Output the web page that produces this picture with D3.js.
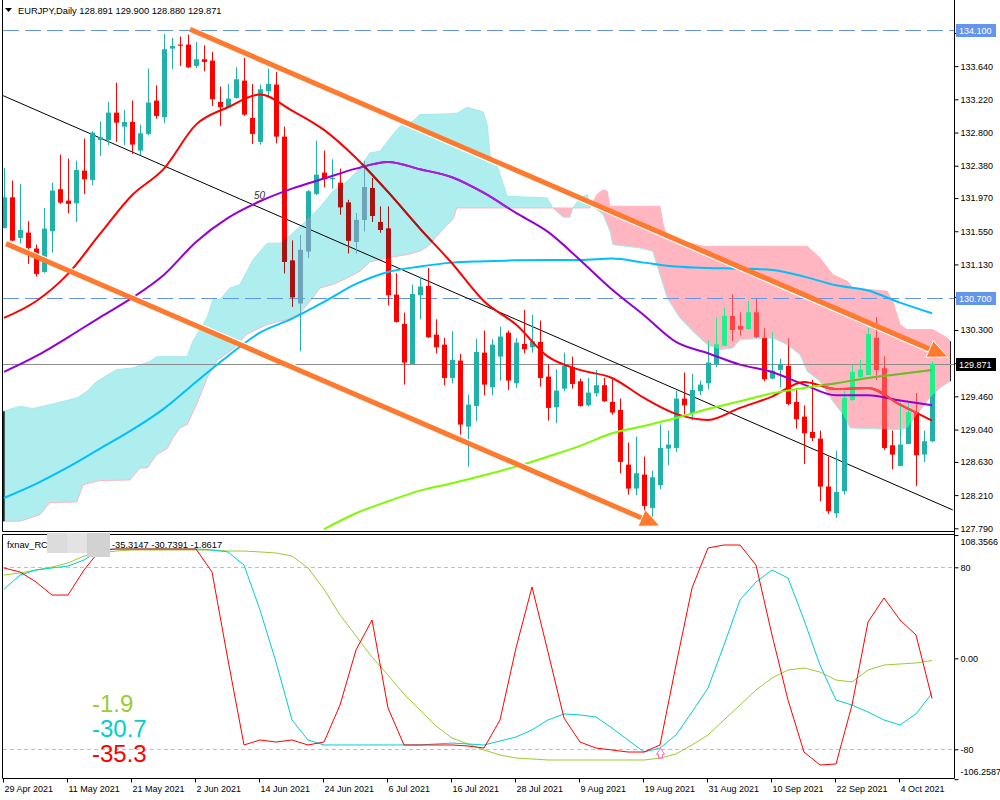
<!DOCTYPE html>
<html><head><meta charset="utf-8">
<script src="https://cdn.jsdelivr.net/npm/d3@7/dist/d3.min.js"></script>
<style>body{margin:0;background:#fff}svg{display:block}text{font-family:'Liberation Sans',Arial,sans-serif}</style>
</head><body><svg width="1000" height="800"></svg>
<script>
// ---------- DATA ----------
const opens = [131.592,131.980,131.466,131.533,131.331,131.035,131.550,132.082,131.938,131.904,132.318,132.200,132.706,132.706,133.052,132.875,132.934,132.571,132.782,133.204,132.993,133.862,133.913,133.913,133.643,133.727,133.710,133.187,133.120,133.238,133.457,132.985,132.681,133.322,133.407,132.748,131.179,130.639,131.297,132.023,132.293,132.208,132.166,131.913,131.415,131.693,132.098,131.668,131.584,130.748,130.377,129.871,130.740,130.858,130.242,130.115,129.693,129.913,129.077,129.339,130.014,129.575,129.963,130.267,129.626,130.124,130.082,130.149,129.710,129.322,129.558,129.828,129.651,129.347,129.499,129.601,129.390,129.288,128.596,128.293,128.470,128.048,128.335,128.799,128.807,129.432,129.246,129.525,129.626,129.871,130.107,130.478,130.352,130.318,130.520,130.200,129.685,129.795,129.845,129.390,129.204,129.010,128.925,128.318,127.980,128.259,129.415,129.710,129.736,130.200,129.812,128.841,128.580,128.858,129.255,128.723,128.891];
const highs = [132.352,132.191,132.149,131.677,131.381,131.845,132.166,132.520,132.470,132.444,132.723,132.816,132.942,133.187,133.432,133.086,133.204,132.900,133.609,133.398,134.048,133.997,134.014,134.039,133.947,133.904,133.820,133.381,133.415,133.626,133.744,133.415,133.407,133.609,133.567,132.875,131.432,131.499,132.073,132.698,132.571,132.461,132.343,131.947,131.778,132.436,132.225,131.862,131.862,131.018,130.520,130.875,130.976,131.086,130.436,130.200,130.284,129.997,129.482,130.191,130.293,130.183,130.343,130.293,130.200,130.554,130.495,130.419,129.862,129.803,130.014,129.963,129.685,129.693,129.795,129.693,129.677,129.432,128.875,128.951,128.698,128.520,129.103,129.027,129.533,129.761,129.744,129.660,130.166,130.453,130.580,130.748,130.520,130.664,130.689,130.318,130.267,129.938,130.191,129.542,129.347,129.668,129.027,128.698,128.774,129.525,129.854,129.921,130.326,130.461,129.963,129.027,129.381,129.373,129.499,129.027,129.900];
const lows = [131.584,131.423,131.398,131.136,130.976,131.023,131.280,131.896,131.778,131.668,132.023,132.132,132.504,132.639,132.681,132.639,132.529,132.512,132.765,132.976,132.917,133.601,133.643,133.617,133.617,133.575,133.136,132.883,133.111,133.229,133.010,132.655,132.647,133.263,132.664,131.018,130.596,130.031,131.212,132.006,132.107,132.090,131.761,131.271,131.271,131.550,131.668,131.533,130.613,130.394,129.609,129.871,130.436,130.200,130.006,129.601,129.626,128.976,128.571,129.145,129.474,129.474,129.660,129.542,129.567,130.006,130.014,129.584,129.153,129.120,129.525,129.558,129.331,129.331,129.457,129.390,129.229,128.487,128.217,128.208,127.955,127.938,128.284,128.588,128.757,129.229,129.162,129.474,129.550,129.828,130.099,130.166,130.234,130.301,130.200,129.651,129.677,129.575,129.347,129.052,128.605,128.892,128.132,127.972,127.921,128.217,129.406,129.693,129.736,129.668,128.782,128.537,128.571,128.858,128.326,128.630,128.880];
const closes = [131.980,131.432,131.567,131.339,131.010,131.584,132.065,131.913,131.896,132.326,132.208,132.799,132.740,133.052,132.925,132.934,132.647,132.790,133.179,133.010,133.854,133.896,133.904,133.626,133.727,133.693,133.221,133.120,133.229,133.474,133.027,132.782,133.347,133.415,132.748,131.162,130.715,131.314,132.056,132.267,132.208,132.225,131.854,131.432,131.693,132.107,131.744,131.567,130.740,130.402,129.888,130.757,130.850,130.208,130.082,129.693,129.921,129.103,129.356,130.023,129.609,130.115,130.217,129.660,130.141,130.056,130.158,129.693,129.314,129.533,129.845,129.617,129.339,129.508,129.601,129.398,129.255,128.630,128.293,128.487,128.073,128.436,128.807,128.850,129.432,129.347,129.542,129.609,129.888,130.115,130.478,130.301,130.309,130.520,130.217,129.677,129.786,129.862,129.364,129.170,128.993,128.934,128.318,128.006,128.250,129.440,129.769,129.795,130.242,129.795,128.807,128.723,128.850,129.255,128.715,128.892,129.871];

const dateIdx = [0,8,16,24,32,40,48,56,64,72,80,88,96,104,112];
const dateLabels = ['29 Apr 2021','11 May 2021','21 May 2021','2 Jun 2021','14 Jun 2021','24 Jun 2021','6 Jul 2021','16 Jul 2021','28 Jul 2021','9 Aug 2021','19 Aug 2021','31 Aug 2021','10 Sep 2021','22 Sep 2021','4 Oct 2021'];
const priceTicks = [127.790,128.210,128.630,129.040,129.460,129.880,130.300,130.720,131.130,131.550,131.970,132.380,132.800,133.220,133.640,134.060];
const hiddenTicks = [129.880,130.720,134.060]; // covered by the level labels

// moving averages sampled every 4 bars
const maIdx = [0,4,8,12,16,20,24,28,32,36,40,44,48,52,56,60,64,68,72,76,80,84,88,92,96,100,104,108,112,116];
const maRed = [130.453,130.664,131.010,131.516,132.006,132.343,132.900,133.120,133.280,133.077,132.833,132.478,132.048,131.584,131.145,130.664,130.369,129.963,129.795,129.693,129.440,129.238,129.162,129.314,129.457,129.643,129.554,129.567,129.356,129.153];
const maPurple = [129.769,129.968,130.208,130.461,130.706,131.001,131.415,131.719,131.930,132.090,132.217,132.343,132.428,132.335,132.234,132.035,131.782,131.542,131.187,130.812,130.487,130.149,130.006,129.862,129.769,129.609,129.474,129.474,129.407,129.347];
const maBlue = [128.174,128.352,128.563,128.799,129.035,129.305,129.643,129.972,130.267,130.444,130.655,130.883,131.035,131.103,131.153,131.170,131.183,131.187,131.187,131.204,131.153,131.103,131.086,131.077,131.061,130.976,130.866,130.799,130.647,130.512];
const greenIdx = [40,44,48,52,56,60,64,68,72,76,80,84,88,92,96,100,104,108,112,116];
const maGreen = [127.778,127.980,128.132,128.267,128.360,128.461,128.571,128.698,128.833,128.993,129.086,129.187,129.301,129.398,129.499,129.567,129.626,129.693,129.744,129.795];

// ichimoku spans (bar index, price)
const spanAIdx = [-0.1,2,3.6,6.1,9.1,10.4,11.6,14.1,16.1,18.25,19.1,22.9,23.6,25.4,26.1,27,28.25,29.5,31.1,32.9,34.5,35.4,37,39.5,41.1,42.9,44.1,45.75,47,48.6,49.5,51.1,52,55.4,56.6,57.9,59.9,60.4,60.75,61.6,62.9,67.9,68.6,69.9,70.75,71.1,72,72.9,73.25,74.9,75.75,76.1,79.5,81.1,82.9,84.5,86.1,87.9,89.5,91.1,92,96.1,97.9,99.5,100.4,102,103.6,104.9,105.75,112,112.9,114.1,115.4,116.1,117,118.25];
const spanA = [129.271,129.335,129.305,129.364,129.440,129.525,129.651,129.799,129.820,129.904,129.963,129.963,130.158,130.461,130.681,130.689,130.833,130.875,131.187,131.398,131.398,131.466,131.609,131.854,132.056,132.183,132.309,132.542,132.563,132.774,132.879,132.942,133.027,133.035,133.044,133.120,133.061,132.900,132.520,132.394,131.993,131.972,131.845,131.727,131.727,131.845,131.972,132.014,131.888,131.761,131.550,131.381,131.339,131.297,130.706,130.453,130.284,130.115,130.052,130.073,130.179,130.200,130.115,129.989,129.778,129.651,129.398,129.229,129.061,129.039,129.061,129.229,129.398,129.48,129.567,129.651];
const spanBIdx = [-0.1,2,4.5,5.75,9.1,9.9,12,15.75,17,17.9,19.1,20.4,21.1,22,22.9,24.1,25.4,26.6,28.6,30.4,32.9,35.4,37,38.6,39.5,41.1,42.9,44.5,45.75,47.9,50.4,52,53.25,54.1,55.4,56.1,56.6,73.25,74.1,74.9,75.4,75.75,82,82.4,82.9,87.4,100.4,102,103.6,105.4,106.1,110.4,111.1,112,112.9,116.1,117.9,118.25];
const spanB = [127.879,127.879,127.963,128.115,128.124,128.343,128.394,128.402,128.554,128.554,128.723,128.799,128.934,129.061,129.103,129.364,129.693,129.913,130.056,130.250,130.369,130.436,130.512,130.706,130.833,130.875,130.959,131.044,131.162,131.212,131.255,131.297,131.381,131.487,131.634,131.698,131.845,131.845,132.014,132.077,132.056,131.866,131.866,131.634,131.466,131.360,131.360,131.212,131.001,130.917,130.833,130.790,130.664,130.369,130.305,130.305,130.200,130.158];

// drawn objects [bar index, price]
const channelUpper = [[23.25,134.107],[118,129.958]];
const channelLower = [[0.25,131.393],[82,127.82]];
const diagLine = [[-0.1,133.266],[118.6,128.022]];
const levelLines = [134.100,130.700];
const lastPrice = 129.871;

// oscillator, every 2 bars (bar 0 .. 116)
const oscIdx = [0,2,4,6,8,10,12,14,16,18,20,22,24,26,28,30,32,34,36,38,40,42,44,46,48,50,52,54,56,58,60,62,64,66,68,70,72,74,76,78,80,82,84,86,88,90,92,94,96,98,100,102,104,106,108,110,112,114,116];
const oscRed = [79.4,75.9,67.1,55.6,55.6,77.6,95.2,96.1,96.1,96.1,96.1,96.1,96.1,75.9,-1.5,-76.2,-71.8,-73.6,-71.8,-76.2,-73.6,-41.1,7.3,33.7,-43.7,-76.2,-76.2,-76.2,-76.2,-77.1,-78.9,-54.2,9.1,62.7,5.5,-52.5,-73.6,-78.9,-80.6,-82.4,-82.4,-76.2,-5.9,61.8,97.0,99.6,99.6,82.0,20.5,-36.7,-82.4,-93.8,-92.9,-41.1,31.9,53.0,33.7,20.5,-35.3];
const oscCyan = [60.7,73.2,77.6,79.4,81.1,86.4,95.2,96.1,96.1,96.1,96.1,96.1,96.1,95.2,93.5,82.0,42.5,-3.3,-54.2,-71.8,-76.2,-76.2,-76.2,-76.2,-76.2,-76.2,-76.2,-75.3,-74.5,-75.3,-76.2,-72.7,-69.2,-63.0,-54.2,-48.9,-49.8,-51.6,-61.3,-71.8,-82.4,-78.9,-67.4,-47.2,-26.1,11.7,51.3,67.1,77.6,70.6,33.7,-5.9,-36.7,-41.1,-47.2,-54.2,-58.6,-48.9,-30.7];
const oscGreen = [73.2,75.0,77.6,80.3,83.8,89.9,92.6,94.3,95.2,95.2,95.2,95.2,95.2,95.2,94.3,94.3,93.5,92.6,89.9,79.4,60.7,38.1,19.6,1.1,-14.7,-31.4,-45.4,-59.5,-70.1,-75.3,-80.6,-85.0,-87.7,-88.5,-89.4,-89.4,-89.4,-89.4,-89.4,-89.4,-89.4,-87.7,-84.1,-76.2,-67.4,-54.2,-41.1,-27.9,-17.3,-10.3,-8.5,-12.1,-19.1,-20.8,-10.3,-5.9,-5.0,-4.1,-1.9];
const oscTicks = [108.3566,80,0,-80,-106.2587];
const oscLast = [-1.9,-30.7,-35.3];

// ---------- DRAW ----------
const FS = 9;
const svg = d3.select('svg');
const defs = svg.append('defs');
const xS = d3.scaleLinear().domain([0,116]).range([4,932]);
const yS = d3.scaleLinear().domain([127.79,134.1]).range([528.3,29.81]);
const yO = d3.scaleLinear().domain([-80,80]).range([749.3,567.3]);
const PB = 531; // main panel bottom

defs.append('clipPath').attr('id','mainClip').append('rect').attr('x',3).attr('y',0).attr('width',951).attr('height',PB);
defs.append('clipPath').attr('id','oscClip').append('rect').attr('x',3).attr('y',535).attr('width',951).attr('height',243);

function mkArea(idx, vals, edge){
  return d3.area().x(i=>xS(idx[i])).y0(edge).y1(i=>yS(vals[i]))(d3.range(vals.length));
}
function clip(id,d){defs.append('clipPath').attr('id',id).append('path').attr('d',d);}
clip('belowA', mkArea(spanAIdx,spanA,PB));
clip('aboveA', mkArea(spanAIdx,spanA,0));
clip('belowB', mkArea(spanBIdx,spanB,PB));
clip('aboveB', mkArea(spanBIdx,spanB,0));

const gm = svg.append('g').attr('clip-path','url(#mainClip)');
function region(parent, c1, c2){ return parent.append('g').attr('clip-path',`url(#${c1})`).append('g').attr('clip-path',`url(#${c2})`); }
region(gm,'belowA','aboveB').append('rect').attr('width',1000).attr('height',PB).attr('fill','#AFEEEE');
region(gm,'belowB','aboveA').append('rect').attr('width',1000).attr('height',PB).attr('fill','#FFB6C1');
const lineIdx = (idx)=> d3.line().x((d,i)=>xS(idx[i])).y(d=>yS(d));
gm.append('path').attr('d',lineIdx(spanBIdx)(spanB)).attr('fill','none').attr('stroke','#FFB6C1').attr('stroke-width',1);
gm.append('path').attr('d',lineIdx(spanAIdx)(spanA)).attr('fill','none').attr('stroke','#A6EAEA').attr('stroke-width',1);
[[spanAIdx[0],spanA[0],spanB[0],2],[spanAIdx[spanAIdx.length-1],spanA[spanA.length-1],spanB[spanB.length-1],1]].forEach(([i,a,b,w])=>{
  gm.append('line').attr('x1',xS(i)+0.5).attr('x2',xS(i)+0.5).attr('y1',yS(a)).attr('y2',yS(b)).attr('stroke','#222').attr('stroke-width',w);
});

levelLines.forEach(p=>{
  gm.append('line').attr('x1',3).attr('x2',954).attr('y1',Math.round(yS(p))+0.5).attr('y2',Math.round(yS(p))+0.5)
    .attr('stroke','#6495ED').attr('stroke-dasharray','16,6');
});
gm.append('line').attr('x1',3).attr('x2',954).attr('y1',Math.round(yS(lastPrice))+0.5).attr('y2',Math.round(yS(lastPrice))+0.5).attr('stroke','#8C8C8C');
gm.append('line').attr('x1',xS(diagLine[0][0])).attr('y1',yS(diagLine[0][1])).attr('x2',xS(diagLine[1][0])).attr('y2',yS(diagLine[1][1])).attr('stroke','#000').attr('stroke-width',1);

function drawCandles(g, up, dn){
  const cg = g.append('g');
  opens.forEach((o,i)=>{
    const c = closes[i], col = c>=o ? up : dn, x = xS(i);
    cg.append('line').attr('x1',x+0.5).attr('x2',x+0.5).attr('y1',yS(highs[i])).attr('y2',yS(lows[i])).attr('stroke',col).attr('stroke-width',1);
    const t = yS(Math.max(o,c)), b = yS(Math.min(o,c));
    cg.append('rect').attr('x',x-2).attr('y',t).attr('width',5).attr('height',Math.max(1.2,b-t)).attr('fill',col);
  });
}
function drawMAs(g, cols){
  const L = lineIdx(maIdx).curve(d3.curveMonotoneX);
  if(cols.blue) g.append('path').attr('d',L(maBlue)).attr('fill','none').attr('stroke',cols.blue).attr('stroke-width',2);
  if(cols.purple) g.append('path').attr('d',L(maPurple)).attr('fill','none').attr('stroke',cols.purple).attr('stroke-width',2);
  if(cols.red) g.append('path').attr('d',L(maRed)).attr('fill','none').attr('stroke',cols.red).attr('stroke-width',2);
  if(cols.green) g.append('path').attr('d',lineIdx(greenIdx).curve(d3.curveMonotoneX)(maGreen)).attr('fill','none').attr('stroke',cols.green).attr('stroke-width',2);
}
drawCandles(gm,'#20B2AA','#FF0000');
drawCandles(region(gm,'belowA','aboveB'),'#6FA3BA','#A81414');
drawCandles(region(gm,'belowB','aboveA'),'#22EE8E','#FF4646');
drawMAs(gm,{blue:'#00BFFF',purple:'#9400D3',red:'#FF0000',green:'#7CFC00'});
drawMAs(region(gm,'belowA','aboveB'),{red:'#AA1616',purple:'#A820D8'});
drawMAs(region(gm,'belowB','aboveA'),{red:'#FF4646',green:'#7FAE3E'});

gm.append('text').attr('x',xS(31.75)-4).attr('y',yS(132.009)+4).attr('font-size',10).attr('font-style','italic').attr('fill','#333').text('50');

function arrowLine(pts, side){
  const x1=xS(pts[0][0]), y1=yS(pts[0][1]), x2=xS(pts[1][0]), y2=yS(pts[1][1]);
  const dx=x2-x1, dy=y2-y1, len=Math.hypot(dx,dy), ux=dx/len, uy=dy/len, nx=-uy*side, ny=ux*side;
  const hl=20, hw=9;
  const bx=x2-ux*hl, by=y2-uy*hl;
  gm.append('line').attr('x1',x1+nx*3).attr('y1',y1+ny*3).attr('x2',bx+nx*3).attr('y2',by+ny*3).attr('stroke','#fff').attr('stroke-width',1.5);
  gm.append('line').attr('x1',x1).attr('y1',y1).attr('x2',bx+ux*2).attr('y2',by+uy*2).attr('stroke','#FF7A2E').attr('stroke-width',5);
  gm.append('path').attr('d',`M${x2},${y2}L${bx+nx*hw},${by+ny*hw}L${bx-nx*hw},${by-ny*hw}Z`).attr('fill','#FF7A2E').attr('stroke','#fff').attr('stroke-width',1);
}
arrowLine(channelUpper, 1);
arrowLine(channelLower, -1);

const fr = svg.append('g').attr('stroke','#000').attr('stroke-width',1).attr('fill','none');
fr.append('line').attr('x1',2.5).attr('x2',2.5).attr('y1',0).attr('y2',PB+0.5);
fr.append('line').attr('x1',2.5).attr('x2',954.5).attr('y1',PB+0.5).attr('y2',PB+0.5);
fr.append('line').attr('x1',2.5).attr('x2',954.5).attr('y1',534.5).attr('y2',534.5);
fr.append('line').attr('x1',2.5).attr('x2',2.5).attr('y1',534.5).attr('y2',778.5);
fr.append('line').attr('x1',2.5).attr('x2',954.5).attr('y1',778.5).attr('y2',778.5);
fr.append('line').attr('x1',954.5).attr('x2',954.5).attr('y1',0).attr('y2',778.5);

const ax = svg.append('g').attr('transform','translate(954.5,0)')
  .call(d3.axisRight(yS).tickValues(priceTicks).tickFormat(d=> hiddenTicks.includes(d)?'':d3.format('.3f')(d)).tickSizeInner(4).tickSizeOuter(0).tickPadding(2));
ax.select('.domain').remove();
ax.selectAll('text').attr('font-size',FS).attr('fill','#000').attr('font-family','Liberation Sans, Arial');
ax.selectAll('line').attr('stroke','#000');
function priceLabel(p, bg, fg){
  const y = Math.round(yS(p));
  svg.append('rect').attr('x',956).attr('y',y-6).attr('width',40).attr('height',13).attr('fill',bg);
  svg.append('text').attr('x',959).attr('y',y+3.5).attr('font-size',FS).attr('fill',fg).text(d3.format('.3f')(p));
}
priceLabel(levelLines[0],'#6495ED','#fff');
priceLabel(levelLines[1],'#6495ED','#fff');
priceLabel(lastPrice,'#000','#fff');

svg.append('path').attr('d','M5,8L12,8L8.5,12Z').attr('fill','#000');
svg.append('text').attr('x',18).attr('y',14).attr('font-size',FS+0.3).attr('fill','#000')
  .text('EURJPY,Daily  '+[opens[116],highs[116],lows[116],closes[116]].map(d3.format('.3f')).join(' '));

// ---------- OSCILLATOR ----------
const go = svg.append('g').attr('clip-path','url(#oscClip)');
[80,-80].forEach(v=>go.append('line').attr('x1',3).attr('x2',954).attr('y1',Math.round(yO(v))+0.5).attr('y2',Math.round(yO(v))+0.5).attr('stroke','#C0C0C0').attr('stroke-dasharray','4,3'));
const oL = d3.line().x((d,i)=>xS(oscIdx[i])).y(d=>yO(d));
go.append('path').attr('d',oL(oscGreen)).attr('fill','none').attr('stroke','#9ACD32').attr('stroke-width',1);
go.append('path').attr('d',oL(oscCyan)).attr('fill','none').attr('stroke','#00CED1').attr('stroke-width',1);
go.append('path').attr('d',oL(oscRed)).attr('fill','none').attr('stroke','#FF0000').attr('stroke-width',1);
go.append('path').attr('d',`M${xS(82)-3.5},${yO(-80)+5}l4,-6l4,6h-2v4h-4v-4z`).attr('fill','none').attr('stroke','#FF69B4').attr('stroke-width',1);

const bigCols = ['#9ACD32','#00CED1','#FF0000'];
oscLast.forEach((v,i)=>svg.append('text').attr('x',92).attr('y',712+i*25).attr('font-size',24).attr('fill',bigCols[i]).text(v.toFixed(1)));

svg.append('text').attr('x',7).attr('y',548).attr('font-size',FS+0.3).attr('fill','#000').text('fxnav_RC');
svg.append('rect').attr('x',47).attr('y',533).attr('width',20).attr('height',20).attr('fill','#DCDCDC');
svg.append('rect').attr('x',67).attr('y',533).attr('width',20).attr('height',20).attr('fill','#E3E3E3');
svg.append('rect').attr('x',87).attr('y',533).attr('width',23).attr('height',24).attr('fill','#D2D2D2');
svg.append('text').attr('x',112).attr('y',548).attr('font-size',FS+0.3).attr('fill','#000').text('-35.3147 -30.7391 -1.8617');

const ao = svg.append('g').attr('transform','translate(954.5,0)')
  .call(d3.axisRight(yO).tickValues(oscTicks).tickFormat(d=> d===0?'0.00':(Math.abs(d)===80?String(d):d.toFixed(4))).tickSizeInner(4).tickSizeOuter(0).tickPadding(2));
ao.select('.domain').remove();
ao.selectAll('text').attr('font-size',FS).attr('fill','#000').attr('font-family','Liberation Sans, Arial');
ao.selectAll('line').attr('stroke','#000');
ao.selectAll('.tick').filter(d=>d===oscTicks[0]).select('text').attr('dy','1.0em');
ao.selectAll('.tick').filter(d=>d===oscTicks[4]).select('text').attr('dy','-0.5em');

const at = svg.append('g').attr('transform','translate(-1,778.5)')
  .call(d3.axisBottom(xS).tickValues(dateIdx).tickFormat((d,i)=>dateLabels[i]).tickSizeInner(4).tickSizeOuter(0).tickPadding(3));
at.select('.domain').remove();
at.selectAll('text').attr('text-anchor','start').attr('dx',1).attr('font-size',FS).attr('fill','#000').attr('font-family','Liberation Sans, Arial');
at.selectAll('line').attr('stroke','#000');
</script></body></html>
